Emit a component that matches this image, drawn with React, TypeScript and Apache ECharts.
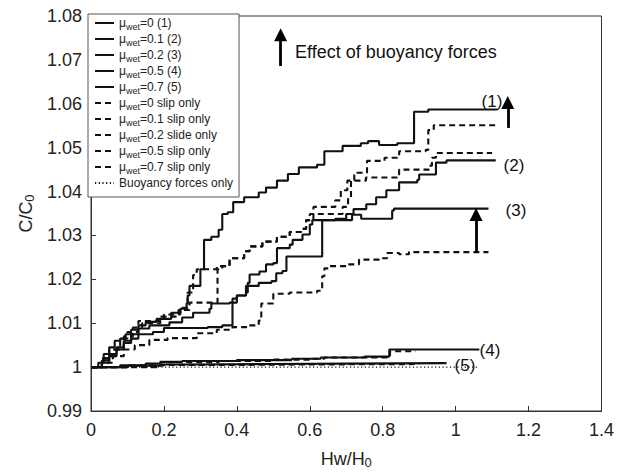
import React, { useEffect, useRef } from "react";
import * as echarts from "echarts";

const FONT = "'Liberation Sans', Arial, Helvetica, sans-serif";

// Legend names (series order)
const NAMES = [
  "μwet=0 (1)",
  "μwet=0.1 (2)",
  "μwet=0.2 (3)",
  "μwet=0.5 (4)",
  "μwet=0.7 (5)",
  "μwet=0 slip only",
  "μwet=0.1 slip only",
  "μwet=0.2 slide only",
  "μwet=0.5 slip only",
  "μwet=0.7 slip only",
  "Buoyancy forces only",
];
const SUFFIX = [
  "=0 (1)",
  "=0.1 (2)",
  "=0.2 (3)",
  "=0.5 (4)",
  "=0.7 (5)",
  "=0 slip only",
  "=0.1 slip only",
  "=0.2 slide only",
  "=0.5 slip only",
  "=0.7 slip only",
];

// [Hw/H0, C/C0] step points (value holds until next x)
const MU0 = [
  [0, 1.0], [0.02, 1.001], [0.035, 1.003], [0.05, 1.0045], [0.065, 1.006], [0.08, 1.0065],
  [0.095, 1.0075], [0.11, 1.0085], [0.13, 1.0095], [0.15, 1.0103], [0.18, 1.011], [0.22, 1.0124],
  [0.245, 1.0133], [0.262, 1.0145], [0.265, 1.0163], [0.27, 1.0185], [0.3, 1.0223], [0.31, 1.029],
  [0.33, 1.0297], [0.35, 1.0313], [0.36, 1.0349], [0.375, 1.0353], [0.39, 1.0376], [0.42, 1.0387],
  [0.46, 1.0398], [0.48, 1.0409], [0.51, 1.0425], [0.54, 1.044], [0.57, 1.0455], [0.62, 1.0461],
  [0.64, 1.0492], [0.69, 1.0504], [0.74, 1.051], [0.76, 1.0515], [0.79, 1.0506], [0.84, 1.051],
  [0.886, 1.0582], [0.925, 1.0587], [1.115, 1.0587],
];
const MU01 = [
  [0, 1.0], [0.03, 1.0015], [0.05, 1.003], [0.07, 1.0045], [0.09, 1.006], [0.11, 1.0075],
  [0.13, 1.0088], [0.16, 1.0095], [0.215, 1.0102], [0.25, 1.0113], [0.28, 1.0124], [0.325, 1.0133],
  [0.33, 1.0145], [0.38, 1.0147], [0.4, 1.0163], [0.425, 1.017], [0.43, 1.0192], [0.435, 1.0211],
  [0.462, 1.0218], [0.48, 1.0234], [0.5, 1.0237], [0.51, 1.0271], [0.545, 1.0279], [0.553, 1.029],
  [0.58, 1.0302], [0.6, 1.0325], [0.607, 1.0335], [0.67, 1.0338], [0.7, 1.0349], [0.72, 1.036],
  [0.755, 1.0371], [0.782, 1.0387], [0.81, 1.0403], [0.845, 1.0421], [0.895, 1.0427], [0.9, 1.0439],
  [0.946, 1.0466], [0.975, 1.0471], [1.11, 1.0471],
];
const MU02 = [
  [0, 1.0], [0.03, 1.001], [0.05, 1.0025], [0.07, 1.004], [0.09, 1.0055], [0.11, 1.0065],
  [0.13, 1.0075], [0.17, 1.008], [0.2, 1.0089], [0.32, 1.0091], [0.36, 1.0095], [0.388, 1.0156],
  [0.4, 1.0163], [0.425, 1.0185], [0.46, 1.0192], [0.495, 1.0196], [0.508, 1.0214], [0.525, 1.0219],
  [0.536, 1.0252], [0.634, 1.0335], [0.716, 1.0347], [0.741, 1.0338], [0.826, 1.0357],
  [0.831, 1.0361], [1.09, 1.0361],
];
const MU05 = [
  [0, 1.0], [0.08, 1.0004], [0.15, 1.0008], [0.19, 1.0012], [0.25, 1.0014], [0.4, 1.0016],
  [0.55, 1.0019], [0.63, 1.0022], [0.75, 1.0024], [0.818, 1.004], [1.065, 1.004],
];
const MU07 = [
  [0, 1.0], [0.1, 1.0003], [0.19, 1.0006], [0.3, 1.0007], [0.5, 1.0008], [0.7, 1.0009], [0.975, 1.0009],
];
const MU0_SLIP = [
  [0, 1.0], [0.03, 1.002], [0.05, 1.004], [0.08, 1.0065], [0.1, 1.008], [0.13, 1.0105],
  [0.2, 1.012], [0.245, 1.0135], [0.265, 1.017], [0.28, 1.021], [0.29, 1.0223], [0.345, 1.023],
  [0.38, 1.0248], [0.42, 1.0264], [0.435, 1.0275], [0.47, 1.0286], [0.51, 1.0297], [0.545, 1.0308],
  [0.58, 1.0315], [0.59, 1.0335], [0.61, 1.0365], [0.67, 1.038], [0.685, 1.0403], [0.703, 1.0425],
  [0.722, 1.0443], [0.757, 1.047], [0.805, 1.0477], [0.845, 1.0492], [0.918, 1.0495],
  [0.925, 1.054], [0.94, 1.0551], [1.11, 1.0551],
];
const MU01_SLIP = [
  [0, 1.0], [0.03, 1.002], [0.06, 1.004], [0.09, 1.007], [0.115, 1.009], [0.14, 1.01],
  [0.19, 1.0115], [0.24, 1.013], [0.27, 1.0147], [0.347, 1.0223], [0.36, 1.023], [0.38, 1.0248],
  [0.42, 1.0264], [0.435, 1.0275], [0.47, 1.0286], [0.51, 1.0297], [0.545, 1.0308], [0.58, 1.0315],
  [0.59, 1.0335], [0.6, 1.0349], [0.69, 1.0365], [0.705, 1.0387], [0.713, 1.0425], [0.754, 1.0432],
  [0.84, 1.0439], [0.845, 1.045], [0.927, 1.0459], [0.935, 1.0477], [0.946, 1.0488], [1.1, 1.0488],
];
const MU02_SLIDE = [
  [0, 1.0], [0.03, 1.001], [0.06, 1.0025], [0.09, 1.004], [0.12, 1.005], [0.16, 1.0062],
  [0.21, 1.0066], [0.29, 1.0077], [0.345, 1.0085], [0.388, 1.0091], [0.43, 1.0095], [0.46, 1.0106],
  [0.467, 1.0145], [0.5, 1.0167], [0.545, 1.017], [0.62, 1.0174], [0.632, 1.0178], [0.634, 1.0207],
  [0.64, 1.0225], [0.655, 1.023], [0.7, 1.0234], [0.735, 1.0245], [0.79, 1.0248], [0.812, 1.026],
  [0.845, 1.0257], [0.872, 1.0262], [1.09, 1.0262],
];
const MU05_SLIP = [
  [0, 1.0], [0.1, 1.0004], [0.2, 1.0011], [0.35, 1.0014], [0.5, 1.0017], [0.6, 1.0019],
  [0.64, 1.0022], [0.75, 1.0022], [0.82, 1.0036], [0.89, 1.0037],
];
const MU07_SLIP = [
  [0, 1.0], [0.19, 1.0005], [0.4, 1.0006], [0.6, 1.0007], [0.9, 1.0007],
];
const BUOYANCY = [
  [0, 1.0], [1.06, 1.0],
];

// Arrows: [x, base, end]
const ARROWS = [
  [1.143, 1.0545, 1.0603],
  [1.056, 1.026, 1.0348],
  [0.52, 1.0686, 1.0757],
];

const X_TICKS = { min: 0, max: 1.4, interval: 0.2 };
const Y_TICKS = { min: 0.99, max: 1.08, interval: 0.01 };

const CURVE_LABELS = [
  { text: "(1)", x: 492, y: 101 },
  { text: "(2)", x: 514, y: 165 },
  { text: "(3)", x: 516, y: 210 },
  { text: "(4)", x: 490, y: 350 },
  { text: "(5)", x: 465, y: 365 },
];

const ALL = [MU0, MU01, MU02, MU05, MU07, MU0_SLIP, MU01_SLIP, MU02_SLIDE, MU05_SLIP, MU07_SLIP, BUOYANCY];

export default function App() {
  const ref = useRef<HTMLDivElement>(null);
  useEffect(() => {
    if (!ref.current) return;
    const chart = echarts.init(ref.current, null, { renderer: "svg" });
    const series: any[] = ALL.map((d, i) => {
      const dashed = i >= 5 && i < 10;
      const dotted = i === 10;
      const s: any = {
        type: "line",
        name: NAMES[i],
        data: d,
        step: dotted ? false : "end",
        symbol: "none",
        silent: true,
        lineStyle: {
          color: "#111",
          width: dotted ? 1.4 : 2.1,
          type: dotted ? [1.2, 2.5] : dashed ? [6, 4] : "solid",
        },
        itemStyle: { color: "#111" },
        emphasis: { disabled: true },
      };
      if (dotted) {
        s.markLine = {
          silent: true,
          animation: false,
          symbol: ["none", "triangle"],
          symbolSize: 13,
          label: { show: false },
          lineStyle: { color: "#000", width: 2.8, type: "solid" },
          itemStyle: { color: "#000" },
          emphasis: { disabled: true },
          data: ARROWS.map((a) => [{ coord: [a[0], a[1]] }, { coord: [a[0], a[2]] }]),
        };
      }
      return s;
    });
    chart.setOption({
      animation: false,
      backgroundColor: "#fff",
      textStyle: { fontFamily: FONT },
      grid: { left: 91, right: 14, top: 16, bottom: 57, show: true, borderColor: "#333", borderWidth: 1 },
      xAxis: {
        type: "value",
        min: X_TICKS.min,
        max: X_TICKS.max,
        interval: X_TICKS.interval,
        name: "{a|Hw/H}{b|0}",
        nameLocation: "middle",
        nameGap: 38,
        nameTextStyle: {
          rich: {
            a: { fontSize: 18, fontFamily: FONT, color: "#222", lineHeight: 20 },
            b: { fontSize: 13, fontFamily: FONT, color: "#222", verticalAlign: "bottom", lineHeight: 10 },
          },
        },
        axisLine: { lineStyle: { color: "#333", width: 1 } },
        axisTick: { inside: true, length: 5, lineStyle: { color: "#333" } },
        axisLabel: {
          fontSize: 18,
          color: "#222",
          margin: 10,
          fontFamily: FONT,
          formatter: (v: number) => String(+v.toFixed(2)),
        },
        splitLine: { show: false },
      },
      yAxis: {
        type: "value",
        min: Y_TICKS.min,
        max: Y_TICKS.max,
        interval: Y_TICKS.interval,
        name: "{a|C/C}{b|0}",
        nameLocation: "middle",
        nameGap: 52,
        nameRotate: 90,
        nameTextStyle: {
          rich: {
            a: { fontSize: 18, fontFamily: FONT, color: "#222", lineHeight: 20 },
            b: { fontSize: 13, fontFamily: FONT, color: "#222", verticalAlign: "bottom", lineHeight: 10 },
          },
        },
        axisLine: { lineStyle: { color: "#333", width: 1 } },
        axisTick: { inside: true, length: 5, lineStyle: { color: "#333" } },
        axisLabel: {
          fontSize: 18,
          color: "#222",
          margin: 9,
          fontFamily: FONT,
          formatter: (v: number) => String(+v.toFixed(2)),
        },
        splitLine: { show: false },
      },
      legend: {
        orient: "vertical",
        left: 88,
        top: 14,
        itemWidth: 19,
        itemHeight: 10,
        itemGap: 2,
        padding: [3, 6, 8, 6],
        borderColor: "#555",
        borderWidth: 1,
        backgroundColor: "#fff",
        selectedMode: false,
        itemStyle: { opacity: 0 },
        data: NAMES,
        textStyle: {
          fontFamily: FONT,
          fontSize: 12,
          color: "#222",
          rich: {
            m: { fontSize: 12, fontFamily: FONT, color: "#222", lineHeight: 16 },
            s: { fontSize: 9, fontFamily: FONT, color: "#222", lineHeight: 8, verticalAlign: "bottom" },
          },
        },
        formatter: (name: string) => {
          const i = NAMES.indexOf(name);
          if (i >= 0 && i < SUFFIX.length) return `{m|μ}{s|wet}{m|${SUFFIX[i]}}`;
          return `{m|${name}}`;
        },
      },
      graphic: [
        {
          type: "text",
          x: 295,
          y: 52,
          silent: true,
          style: {
            text: "Effect of buoyancy forces",
            fontSize: 18,
            fontFamily: FONT,
            fill: "#111",
            verticalAlign: "middle",
          },
        },
        ...CURVE_LABELS.map((l) => ({
          type: "text",
          x: l.x,
          y: l.y,
          silent: true,
          style: {
            text: l.text,
            fontSize: 17,
            fontFamily: FONT,
            fill: "#111",
            align: "center",
            verticalAlign: "middle",
          },
        })),
      ],
      series,
    });
    return () => chart.dispose();
  }, []);
  return <div ref={ref} style={{ position: "fixed", left: 0, top: 0, width: 617, height: 474 }} />;
}
